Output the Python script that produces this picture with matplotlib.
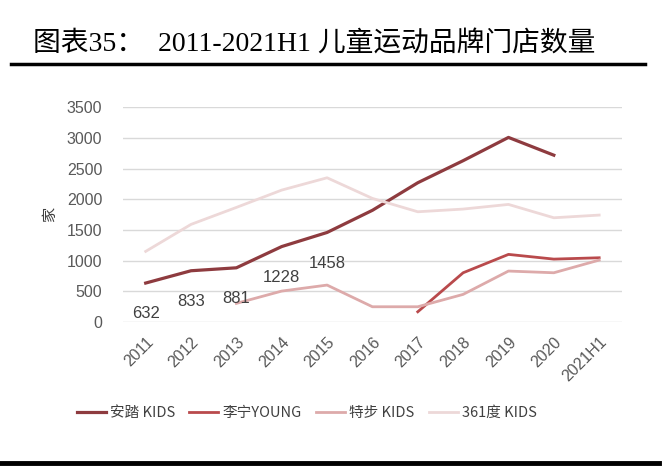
import numpy as np
import matplotlib
matplotlib.use('Agg')
import matplotlib.pyplot as plt

plt.rcParams['font.family'] = ['Liberation Sans', 'Noto Sans CJK SC', 'DejaVu Sans']

# Données
years = ['2011', '2012', '2013', '2014', '2015', '2016', '2017', '2018', '2019', '2020', '2021H1']
anta = [632, 833, 881, 1228, 1458, 1820, 2270, 2630, 3010, 2720, np.nan]
lining = [np.nan] * 6 + [163, 800, 1100, 1023, 1045]
xtep = [np.nan, np.nan, 300, 501, 599, 245, 245, 447, 828, 800, 1007]
k361 = [1149, 1590, 1867, 2150, 2351, 2014, 1796, 1840, 1916, 1698, 1742]
anta_labels = [632, 833, 881, 1228, 1458]

series_names = ['安踏 KIDS', '李宁YOUNG', '特步 KIDS', '361度 KIDS']
colors = ['#8E3B3F', '#B94A4C', '#DDAAAA', '#EDD8D8']

fig = plt.figure(figsize=(6.66, 4.67), dpi=100)
ax = fig.add_axes([0.1847, 0.311, 0.749, 0.459])

x = np.arange(len(years))
lines = []
for vals, name, c, lw in zip([anta, lining, xtep, k361], series_names, colors, [2.3, 2.0, 2.0, 2.0]):
    ln, = ax.plot(x, vals, color=c, lw=lw, label=name, zorder=3)
    lines.append(ln)

# Étiquettes de données (安踏)
for i, v in enumerate(anta_labels):
    ax.annotate(str(v), (x[i], v), xytext=(0, -22), textcoords='offset points',
                ha='center', va='center', fontsize=12, color='#404040')

ax.set_xlim(-0.5, len(years) - 0.5)
ax.set_ylim(0, 3500)
ax.set_yticks(range(0, 3501, 500))
ax.set_xticks(x)
ax.set_xticklabels(years, rotation=45, ha='right', rotation_mode='anchor')
ax.tick_params(axis='both', length=0, labelsize=11.5, colors='#595959')
ax.tick_params(axis='y', pad=15)
ax.tick_params(axis='x', pad=9)
ax.grid(axis='y', color='#D9D9D9', lw=1, zorder=0)
for s in ax.spines.values():
    s.set_visible(False)

ax.set_ylabel('家', rotation=90, fontsize=11, color='#404040', family=['Noto Sans CJK SC'], labelpad=6)

# Légende
fig.legend(handles=lines, loc='center left', bbox_to_anchor=(0.115, 0.116), ncol=4, frameon=False,
           prop={'family': ['Noto Sans CJK SC'], 'size': 10.5}, handlelength=2.0,
           handletextpad=0.3, columnspacing=0.95, labelcolor='#404040', borderaxespad=0, borderpad=0)

# Titre et filets
fig.text(0.05, 0.907, '图表35：  2011-2021H1 儿童运动品牌门店数量', fontsize=20,
         family=['Liberation Serif', 'Noto Sans CJK SC'], va='center', ha='left')
fig.add_artist(plt.Line2D([0.017, 0.968], [0.864, 0.864], color='black', lw=2.5))
fig.add_artist(plt.Line2D([0.0, 0.99], [0.008, 0.008], color='black', lw=3.5))

fig.savefig('out.png', dpi=100, facecolor='white')
